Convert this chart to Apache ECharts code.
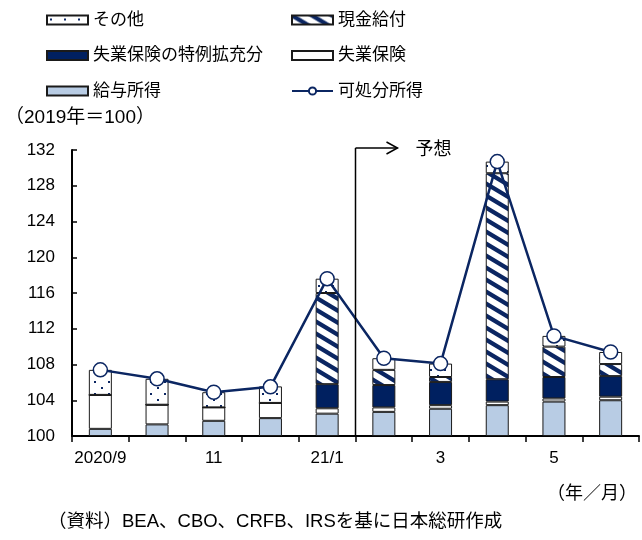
<!DOCTYPE html>
<html>
<head>
<meta charset="utf-8">
<script src="https://cdn.jsdelivr.net/npm/echarts@6/dist/echarts.min.js"></script>
<style>
  html, body { margin: 0; padding: 0; background: #fff; }
  #chart { width: 642px; height: 540px; }
</style>
</head>
<body>
<div id="chart"></div>
<script>
// Months (2020/9 – 2021/6); labels shown on every other tick
const months = ['2020/9', '10', '11', '12', '21/1', '2', '3', '4', '5', '6'];
// Contributions to disposable income (2019 = 100), stacked from the 100 baseline
const wages        = [0.8, 1.3, 1.7, 2.0, 2.5, 2.7, 3.05, 3.45, 3.85, 4.0];   // 給与所得
const unemployment = [3.8, 2.2, 1.5, 1.7, 0.6, 0.5, 0.4, 0.4, 0.35, 0.4];     // 失業保険
const ueExtension  = [0, 0, 0, 0, 2.7, 2.5, 2.6, 2.5, 2.4, 2.3];              // 失業保険の特例拡充分
const cashPayments = [0, 0, 0, 0, 10.2, 1.7, 0.55, 23.05, 3.4, 1.35];         // 現金給付
const otherItems   = [2.8, 2.9, 1.7, 1.85, 1.6, 1.3, 1.5, 1.3, 1.2, 1.35];    // その他
// Disposable income index
const disposable   = [107.4, 106.4, 104.9, 105.5, 117.6, 108.7, 108.1, 130.7, 111.2, 109.4];
const baseline     = [100, 100, 100, 100, 100, 100, 100, 100, 100, 100];

const NAVY = '#0b2662';
const FONT = '"Liberation Sans", "Noto Sans CJK JP", sans-serif';

// Diagonal stripe fill for cash payments (falling left to right)
function stripePattern() {
  const w = 20, h = 12;
  const c = document.createElement('canvas');
  c.width = w; c.height = h;
  const g = c.getContext('2d');
  g.fillStyle = '#fff'; g.fillRect(0, 0, w, h);
  g.strokeStyle = NAVY; g.lineWidth = 4.3;
  g.beginPath();
  for (let k = -2; k <= 2; k++) {
    g.moveTo(-10, -6 + k * h);
    g.lineTo(w + 10, h + 6 + k * h);
  }
  g.stroke();
  return { image: c, repeat: 'repeat' };
}
// Sparse dot fill for other items
function dotPattern() {
  const c = document.createElement('canvas');
  c.width = 14; c.height = 12;
  const g = c.getContext('2d');
  g.fillStyle = '#fff'; g.fillRect(0, 0, 14, 12);
  g.fillStyle = NAVY;
  g.fillRect(3, 3, 2, 2);
  g.fillRect(10, 9, 2, 2);
  return { image: c, repeat: 'repeat' };
}

const chart = echarts.init(document.getElementById('chart'), null, { renderer: 'canvas' });

const legendCommon = {
  orient: 'vertical', top: 11, padding: 0, itemWidth: 41, itemHeight: 9, itemGap: 17.5,
  textStyle: { fontSize: 17, color: '#000', fontFamily: FONT, lineHeight: 18 },
  selectedMode: false
};
function barSeries(name, data, color) {
  return {
    type: 'bar', stack: 'total', barWidth: 23, name: name, data: data,
    itemStyle: { color: color, borderColor: '#1a1a1a', borderWidth: 1 }
  };
}

const option = {
  animation: false,
  backgroundColor: '#fff',
  textStyle: { fontFamily: FONT },
  grid: { left: 72, right: 3, top: 150, bottom: 104, containLabel: false },
  legend: [
    Object.assign({}, legendCommon, {
      left: 46,
      data: [{ name: 'その他', icon: 'rect' }, { name: '失業保険の特例拡充分', icon: 'rect' }, { name: '給与所得', icon: 'rect' }]
    }),
    Object.assign({}, legendCommon, {
      left: 291,
      data: [{ name: '現金給付', icon: 'rect' }, { name: '失業保険', icon: 'rect' }, { name: '可処分所得' }]
    })
  ],
  xAxis: {
    type: 'category', data: months,
    axisLine: { lineStyle: { color: '#000', width: 2 } },
    axisTick: { show: true, interval: 0, inside: false, length: 6, lineStyle: { color: '#000', width: 1.5 } },
    axisLabel: { interval: 1, fontSize: 17, color: '#000', margin: 14, fontFamily: FONT }
  },
  yAxis: {
    type: 'value', min: 100, max: 132, interval: 4,
    axisLine: { show: true, lineStyle: { color: '#000', width: 2 } },
    axisTick: { show: true, inside: true, length: 5, lineStyle: { color: '#000', width: 1.5 } },
    axisLabel: { fontSize: 17, color: '#000', margin: 17, fontFamily: FONT },
    splitLine: { show: false }
  },
  series: [
    { type: 'bar', stack: 'total', barWidth: 23, name: 'base', data: baseline,
      itemStyle: { color: 'rgba(0,0,0,0)' }, silent: true },
    barSeries('給与所得', wages, '#b8cce4'),
    barSeries('失業保険', unemployment, '#ffffff'),
    barSeries('失業保険の特例拡充分', ueExtension, '#002060'),
    barSeries('現金給付', cashPayments, stripePattern()),
    barSeries('その他', otherItems, dotPattern()),
    {
      type: 'line', name: '可処分所得', data: disposable, z: 5,
      symbol: 'circle', symbolSize: 14,
      lineStyle: { color: NAVY, width: 2.5 },
      itemStyle: { color: '#fff', borderColor: NAVY, borderWidth: 1.5 }
    }
  ]
};

chart.setOption(option);

// Forecast divider between 21/1 and 2, plus annotations
const x4 = chart.convertToPixel({ xAxisIndex: 0 }, 4);
const x5 = chart.convertToPixel({ xAxisIndex: 0 }, 5);
const xDiv = (x4 + x5) / 2;
const yTop = chart.convertToPixel({ yAxisIndex: 0 }, 132) - 2;
const yBot = chart.convertToPixel({ yAxisIndex: 0 }, 100);

chart.setOption({
  graphic: [
    { type: 'line', shape: { x1: xDiv, y1: yTop, x2: xDiv, y2: yBot }, style: { stroke: '#000', lineWidth: 1.5 }, z: 10 },
    { type: 'line', shape: { x1: xDiv, y1: yTop, x2: xDiv + 42, y2: yTop }, style: { stroke: '#000', lineWidth: 1.5 }, z: 10 },
    { type: 'polyline', shape: { points: [[xDiv + 31, yTop - 6], [xDiv + 42, yTop], [xDiv + 31, yTop + 6]] },
      style: { stroke: '#000', lineWidth: 1.5, fill: null }, z: 10 },
    { type: 'text', left: xDiv + 60, top: yTop - 7,
      style: { text: '予想', fill: '#000', font: '18px ' + FONT } },
    { type: 'text', left: 5, top: 108,
      style: { text: '（2019年＝100）', fill: '#000', font: '19px ' + FONT } },
    { type: 'text', right: 5, top: 485,
      style: { text: '（年／月）', fill: '#000', font: '18px ' + FONT } },
    { type: 'text', left: 48, top: 513,
      style: { text: '（資料）BEA、CBO、CRFB、IRSを基に日本総研作成', fill: '#000', font: '18.5px ' + FONT } }
  ]
});
</script>
</body>
</html>
